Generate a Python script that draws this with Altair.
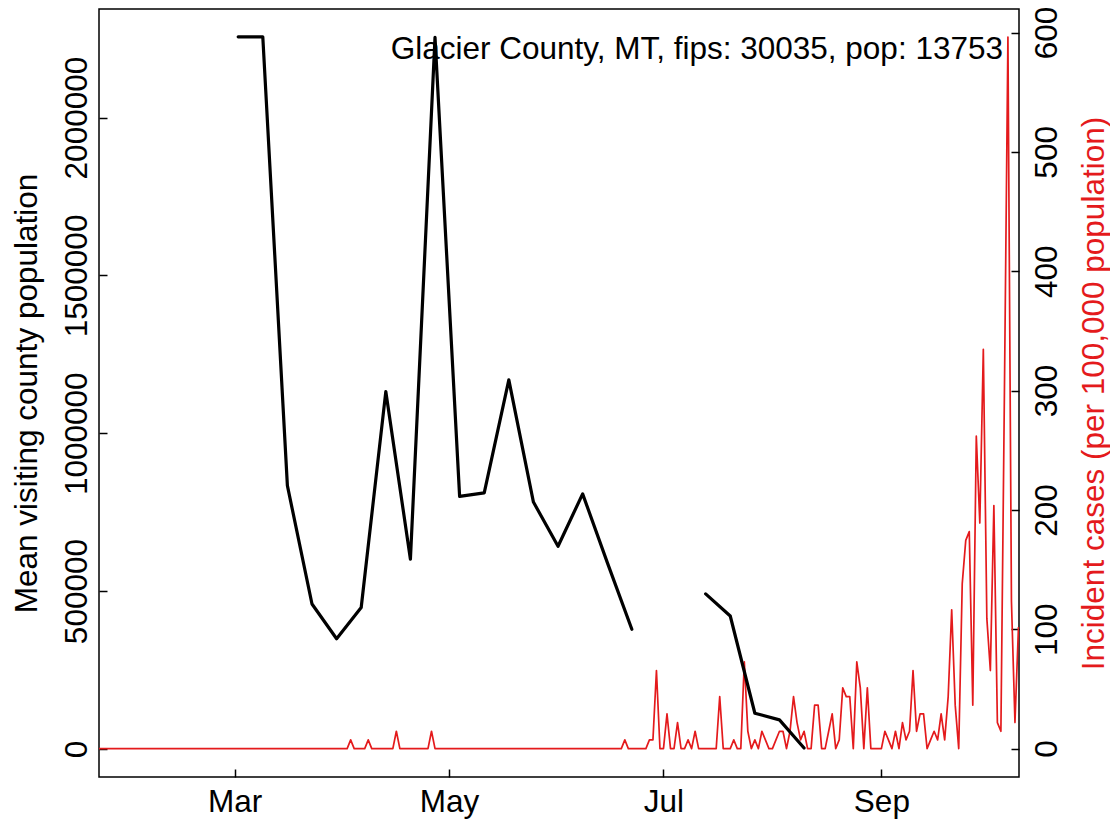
import altair as alt
import pandas as pd

FONT = "Liberation Sans"
FS = 31.5
RED = "#E41A1C"
ANNOTATION = "Glacier County, MT, fips: 30035, pop: 13753"

# ---- weekly mean visiting county population (black line) ----
visit_dates = [
    "2020-03-02", "2020-03-09", "2020-03-16", "2020-03-23", "2020-03-30",
    "2020-04-06", "2020-04-13", "2020-04-20", "2020-04-27", "2020-05-04",
    "2020-05-11", "2020-05-18", "2020-05-25", "2020-06-01", "2020-06-08",
    "2020-06-15", "2020-06-22",
    "2020-07-13", "2020-07-20", "2020-07-27", "2020-08-03", "2020-08-10",
]
visit_pop = [
    2256000, 2256000, 834000, 459000, 349000,
    448000, 1132000, 601000, 2254000, 800000,
    811000, 1169000, 782000, 642000, 808000,
    591000, 379000,
    491000, 421000, 113000, 92000, 3000,
]
visit_run = [1] * 17 + [2] * 5

# ---- daily incident cases per 100,000 (red line), from 2020-01-22 ----
case_start = "2020-01-22"
cases_jan = [0, 0, 0, 0, 0, 0, 0, 0, 0, 0]
cases_feb = [0, 0, 0, 0, 0, 0, 0, 0, 0, 0, 0, 0, 0, 0, 0, 0, 0, 0, 0, 0,
             0, 0, 0, 0, 0, 0, 0, 0, 0]
cases_mar = [0, 0, 0, 0, 0, 0, 0, 0, 0, 0, 0, 0, 0, 0, 0, 0, 0, 0, 0, 0,
             0, 0, 0, 0, 0, 0, 0, 0, 0, 0, 0]
cases_apr = [0, 0, 7.3, 0, 0, 0, 0, 7.3, 0, 0, 0, 0, 0, 0, 0, 14.5, 0, 0, 0, 0,
             0, 0, 0, 0, 0, 14.5, 0, 0, 0, 0]
cases_may = [0, 0, 0, 0, 0, 0, 0, 0, 0, 0, 0, 0, 0, 0, 0, 0, 0, 0, 0, 0,
             0, 0, 0, 0, 0, 0, 0, 0, 0, 0, 0]
cases_jun = [0, 0, 0, 0, 0, 0, 0, 0, 0, 0, 0, 0, 0, 0, 0, 0, 0, 0, 0, 7.3,
             0, 0, 0, 0, 0, 0, 7.3, 7.3, 65.4, 0]
cases_jul = [0, 29.1, 0, 0, 21.8, 0, 0, 7.3, 0, 14.5, 0, 0, 0, 0, 0, 0, 43.6, 0, 0, 0,
             7.3, 0, 0, 72.7, 14.5, 0, 7.3, 0, 14.5, 7.3, 0]
cases_aug = [0, 7.3, 14.5, 14.5, 0, 14.5, 43.6, 21.8, 7.3, 14.5, 0, 0, 36.4, 36.4, 0, 0,
             14.5, 29.1, 0, 7.3, 50.9, 43.6, 43.6, 0, 72.7, 50.9, 0, 50.9, 0, 0, 0]
cases_sep = [0, 14.5, 7.3, 0, 14.5, 0, 21.8, 7.3, 14.5, 65.4, 14.5, 29.1, 29.1, 0, 7.3,
             14.5, 7.3, 29.1, 7.3, 43.6, 116.3, 36.4, 0, 138.2, 174.5, 181.8, 36.4,
             261.8, 189.0, 334.5]
cases_oct = [109.1, 65.4, 203.6, 21.8, 14.5, 298.1, 596.2, 123.6, 21.8, 101.8]

cases = (cases_jan + cases_feb + cases_mar + cases_apr + cases_may + cases_jun
         + cases_jul + cases_aug + cases_sep + cases_oct)

month_ticks = [3, 5, 7, 9]
left_ticks = [0, 500000, 1000000, 1500000, 2000000]
right_ticks = [0, 100, 200, 300, 400, 500, 600]

visit_df = pd.DataFrame({"date": visit_dates, "pop": visit_pop, "run": visit_run})
case_df = pd.DataFrame({
    "date": pd.date_range(case_start, periods=len(cases), freq="D").strftime("%Y-%m-%d"),
    "rate": cases,
})
note_df = pd.DataFrame({"t": [ANNOTATION]})

x_scale = alt.Scale(
    type="utc",
    domain=[
        alt.DateTime(year=2020, month=1, date=22, hours=9, minutes=36, utc=True),
        alt.DateTime(year=2020, month=10, date=10, hours=3, minutes=36, utc=True),
    ],
    nice=False,
)

common_axis = dict(
    labelFont=FONT, titleFont=FONT, labelFontSize=FS, titleFontSize=FS,
    titleFontWeight="normal", labelColor="black", tickColor="black",
    tickWidth=1.5, tickSize=8, offset=-8, domain=False, grid=False,
    labelOverlap=False, labelFlush=False,
)

x_axis = alt.Axis(
    values=[alt.DateTime(year=2020, month=m, date=1, utc=True) for m in month_ticks],
    format="%b", labelAngle=0, labelAlign="center", labelBaseline="alphabetic",
    labelPadding=34.7, **common_axis,
)

left_axis = alt.Axis(
    orient="left", values=left_ticks, format="d",
    labelAngle=270, labelAlign="center", labelBaseline="alphabetic", labelPadding=13,
    title="Mean visiting county population", titleColor="black",
    titleAngle=270, titleAlign="center", titleBaseline="alphabetic",
    titleX=-71, titleY=384,
    **common_axis,
)

right_axis = alt.Axis(
    orient="right", values=right_ticks, format="d",
    labelAngle=270, labelAlign="center", labelBaseline="alphabetic", labelPadding=37.5,
    title="Incident cases (per 100,000 population)", titleColor=RED,
    titleAngle=270, titleAlign="center", titleBaseline="alphabetic",
    titleX=92.4, titleY=384,
    **common_axis,
)

black = alt.Chart(visit_df).mark_line(
    color="black", strokeWidth=3.2, clip=True, strokeJoin="round", strokeCap="round"
).encode(
    x=alt.X("date:T", scale=x_scale, axis=x_axis, title=None),
    y=alt.Y("pop:Q", scale=alt.Scale(domain=[-89000, 2344000], nice=False, zero=False),
            axis=left_axis),
    detail="run:N",
)

red = alt.Chart(case_df).mark_line(
    color=RED, strokeWidth=1.7, clip=True, strokeJoin="round"
).encode(
    x=alt.X("date:T", scale=x_scale, axis=x_axis, title=None),
    y=alt.Y("rate:Q", scale=alt.Scale(domain=[-23.8, 619.7], nice=False, zero=False),
            axis=right_axis),
)

note = alt.Chart(note_df).mark_text(
    align="right", baseline="alphabetic", fontSize=FS, font=FONT, color="black"
).encode(
    x=alt.value(904),
    y=alt.value(50.4),
    text="t:N",
)

chart = (
    alt.layer(red, black, note)
    .resolve_scale(y="independent")
    .properties(
        width=920, height=768,
        padding={"left": 91, "top": 1, "right": 91, "bottom": 43},
        autosize=alt.AutoSizeParams(type="none"),
        background="white",
    )
    .configure_view(stroke="black", strokeWidth=1.5)
)

chart.save("out.html", embed_options={"renderer": "svg", "actions": False})
